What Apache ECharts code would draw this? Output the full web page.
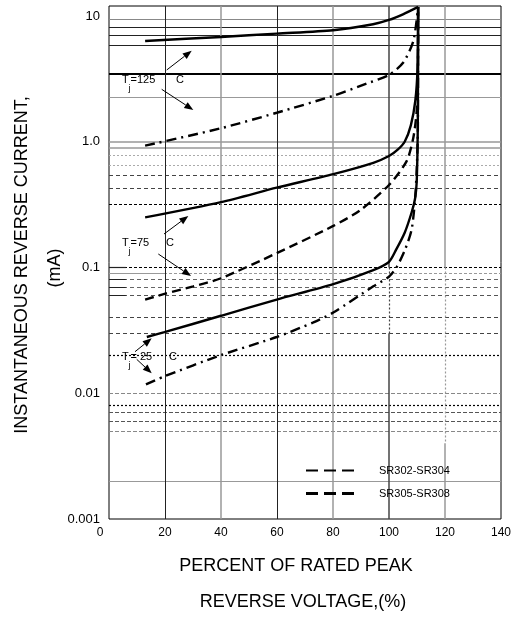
<!DOCTYPE html>
<html><head><meta charset="utf-8">
<script src="https://cdn.jsdelivr.net/npm/echarts@6/dist/echarts.min.js"></script>
<style>html,body{margin:0;padding:0;background:#fff}#c{width:515px;height:618px}</style>
</head><body><div id="c"></div>
<script>
// ---------- data ----------
const xTicks = [0, 20, 40, 60, 80, 100, 120, 140];
const yDecades = [0.001, 0.01, 0.1, 1, 10];
const yDecadeLabels = ['0.001', '0.01', '0.1', '1.0', '10'];

// Tj = 125 C
const t125Solid = [[12.9,6.33],[40,6.81],[59.9,7.24],[80,7.70],[94.3,8.59],[100,9.29],[105,10.3],[110.4,11.8]];
const t125DashDot = [[12.9,0.93],[40,1.28],[59.9,1.70],[80.1,2.32],[92,2.9],[100,3.4],[105.1,4.26],[108.7,6.33],[110.4,11.8]];
// Tj = 75 C
const t75Solid = [[12.9,0.25],[40,0.331],[59.9,0.431],[80.1,0.552],[94.4,0.679],[100,0.769],[103,0.86],[105.6,1.0],[107.8,1.35],[109.4,2.12],[110.2,3.89],[110.4,11.8]];
const t75Dashed = [[12.9,0.0556],[19.8,0.0616],[30.1,0.0707],[40,0.0821],[59.9,0.130],[80.1,0.214],[89.6,0.284],[100,0.453],[106.3,0.701],[108.7,1.08],[109.9,1.76],[110.3,3.5],[110.4,11.8]];
// Tj = 25 C
const t25Solid = [[13.5,0.028],[19.8,0.0306],[40,0.0413],[59.9,0.0556],[80.1,0.0737],[94.4,0.0953],[100,0.111],[102.5,0.138],[105.6,0.189],[108.1,0.275],[109.3,0.352],[109.9,0.482],[110.3,1.5],[110.4,11.8]];
const t25DashDot = [[13.2,0.01175],[19.8,0.01364],[40,0.0201],[59.9,0.028],[73,0.0366],[80.1,0.0438],[94.4,0.0708],[100,0.0846],[102.8,0.1013],[105.7,0.138],[108.1,0.201],[109.5,0.4],[110.3,1.2],[110.4,11.8]];

const legendNames = ['SR302-SR304', 'SR305-SR308'];
const annoTemps = ['=125', '=75', '= 25'];

const hGridValues = [9.4, 8.17, 7.03, 5.85, 3.49, 2.25, 1, 0.9, 0.78, 0.654, 0.539, 0.425, 0.319,
  0.1, 0.09, 0.08, 0.07, 0.06, 0.04, 0.03, 0.02, 0.01, 0.008, 0.007, 0.006, 0.005, 0.002];
const vGridValues = [20, 40, 60, 80];

// ---------- styles ----------
const hGridStyles = [
  ['#888','solid',1],['#222','solid',1],['#222','solid',1],['#222','solid',1],['#000','solid',2],['#999','solid',1.2],
  ['#999','solid',1.5],['#999','solid',1.5],['#aaa',[2,2],1],['#aaa',[2,2],1],['#444',[4,3],1],['#444',[4,3],1],['#000',[3,2],1.2],
  ['#000',[3,2],1.2],['#999',[3,2],1],['#666',[4,3],1],['#666',[4,3],1],['#555',[4,3],1],['#444',[4,3],1],['#444',[4,3],1],['#000',[2,2],1.2],
  ['#888',[4,2],1],['#000',[2,2],1.2],['#555',[4,2],1],['#555',[4,2],1],['#888',[4,2],1],['#999','solid',1.2]
];
const vGridStyles = [['#222','solid',1],['#999','solid',1.5],['#222','solid',1],['#999','solid',1.5]];

const FONT = 'Liberation Sans, Arial, Helvetica, sans-serif';
const ls = (c, t, w) => ({ color: c, type: t, width: w });

const markData = [];
hGridValues.forEach((v, i) => {
  const s = hGridStyles[i];
  markData.push({ yAxis: v, lineStyle: ls(s[0], s[1], s[2]) });
});
vGridValues.forEach((v, i) => {
  const s = vGridStyles[i];
  markData.push({ xAxis: v, lineStyle: ls(s[0], s[1], s[2]) });
});
const seg = (x1, y1, x2, y2, st) => [{ coord: [x1, y1], lineStyle: st }, { coord: [x2, y2] }];
markData.push(seg(100, 12, 100, 0.1, ls('#444','solid',1.5)));
markData.push(seg(100, 0.1, 100, 0.03, ls('#444',[2,2],1.2)));
markData.push(seg(100, 0.03, 100, 0.001, ls('#444','solid',1.5)));
markData.push(seg(120, 12, 120, 0.1, ls('#999','solid',1.5)));
markData.push(seg(120, 0.1, 120, 0.004, ls('#999',[2,2],1.2)));
markData.push(seg(120, 0.004, 120, 0.001, ls('#999','solid',1.5)));
markData.push(seg(0, 0.1, 6, 0.1, ls('#222','solid',1.2)));
markData.push(seg(0, 0.09, 20, 0.09, ls('#999','solid',1.2)));
markData.push(seg(0, 0.08, 6, 0.08, ls('#222','solid',1)));
markData.push(seg(0, 0.07, 6, 0.07, ls('#222','solid',1)));
markData.push(seg(0, 0.06, 6, 0.06, ls('#222','solid',1)));

function curve(data, type) {
  return {
    type: 'line', data, symbol: 'none', smooth: 0.25, z: 5, silent: true,
    lineStyle: { color: '#000', width: 2.4, type }
  };
}

function arrow(x1, y1, x2, y2) {
  const a = Math.atan2(y2 - y1, x2 - x1), L = 9, W = 3.5;
  const bx = x2 - L * Math.cos(a), by = y2 - L * Math.sin(a);
  const px = -Math.sin(a) * W, py = Math.cos(a) * W;
  return [
    { type: 'line', z: 6, shape: { x1, y1, x2: bx, y2: by }, style: { stroke: '#000', lineWidth: 1 } },
    { type: 'polygon', z: 6, shape: { points: [[x2, y2], [bx + px, by + py], [bx - px, by - py]] }, style: { fill: '#000' } }
  ];
}
const rect = (x, y, w, h) => ({ type: 'rect', z: 2, shape: { x, y, width: w, height: h }, style: { fill: '#fff' } });
const txt = (x, y, t, size, align, extra) => Object.assign({
  type: 'text', z: 6, x, y,
  style: { text: t, fill: '#000', font: size + 'px ' + FONT, align: align || 'left', verticalAlign: 'middle' }
}, extra || {});

function tempLabel(xT, yT, temp, xC) {
  return [
    txt(xT, yT, 'T', 11),
    txt(xT + 6.5, yT + 9, 'j', 9),
    txt(xT + 8.5, yT, temp, 11),
    txt(xC, yT, 'C', 11, 'center')
  ];
}

const graphics = [
  rect(120, 48, 89, 47), rect(110, 95, 54, 5),
  rect(126, 219, 69, 48),
  rect(113, 341, 65, 17),
  rect(295, 455, 190, 52),
  ...tempLabel(122, 80, annoTemps[0], 180),
  ...arrow(166.7, 70, 191.7, 50.7), ...arrow(161.7, 89.3, 193.3, 110),
  ...tempLabel(122, 243, annoTemps[1], 170),
  ...arrow(164, 234, 188.3, 216), ...arrow(158.3, 254, 191, 276),
  ...tempLabel(122, 357, annoTemps[2], 173),
  ...arrow(135, 351.7, 151.7, 338.3), ...arrow(136.7, 359.3, 151.7, 373.3),
  { type: 'line', z: 6, shape: { x1: 306, y1: 470.5, x2: 358, y2: 470.5 }, style: { stroke: '#000', lineWidth: 2, lineDash: [12, 6] } },
  { type: 'line', z: 6, shape: { x1: 306, y1: 493.5, x2: 358, y2: 493.5 }, style: { stroke: '#000', lineWidth: 3, lineDash: [12, 6] } },
  txt(379, 470.5, legendNames[0], 11),
  txt(379, 493.5, legendNames[1], 11),
  txt(296, 566, 'PERCENT OF RATED PEAK', 18, 'center'),
  txt(303, 602, 'REVERSE VOLTAGE,(%)', 18, 'center'),
  txt(22, 265, 'INSTANTANEOUS REVERSE CURRENT,', 18, 'center', { rotation: Math.PI / 2 }),
  txt(55, 268, '(mA)', 18, 'center', { rotation: Math.PI / 2 })
];

const chart = echarts.init(document.getElementById('c'), null, { renderer: 'canvas' });
chart.setOption({
  animation: false,
  backgroundColor: '#fff',
  grid: { left: 109, right: 14, top: 6, bottom: 99, show: true, borderColor: '#000', borderWidth: 1, backgroundColor: 'transparent' },
  xAxis: {
    type: 'value', min: xTicks[0], max: xTicks[xTicks.length - 1], interval: 20,
    axisLine: { show: false }, axisTick: { show: false }, splitLine: { show: false },
    axisLabel: {
      color: '#000', fontSize: 12, fontFamily: FONT, margin: 8,
      formatter: v => (v === 0 ? '{z|0}' : String(v)),
      rich: { z: { padding: [0, 18, 0, 0], fontSize: 12, fontFamily: FONT, color: '#000' } }
    }
  },
  yAxis: {
    type: 'log', logBase: 10, min: 0.001, max: 12,
    axisLine: { show: false }, axisTick: { show: false }, splitLine: { show: false }, minorSplitLine: { show: false },
    axisLabel: {
      color: '#000', fontSize: 13, fontFamily: FONT, margin: 9,
      formatter: v => {
        for (let i = 0; i < yDecades.length; i++) {
          if (Math.abs(Math.log10(v) - Math.log10(yDecades[i])) < 1e-6) return yDecadeLabels[i];
        }
        return '';
      }
    }
  },
  series: [
    { type: 'line', data: [], z: 1, silent: true,
      markLine: { silent: true, precision: 8, symbol: ['none', 'none'], label: { show: false }, emphasis: { disabled: true }, animation: false, data: markData } },
    curve(t125Solid, 'solid'),
    curve(t125DashDot, [10, 5, 2, 5]),
    curve(t75Solid, 'solid'),
    curve(t75Dashed, [9, 5]),
    curve(t25Solid, 'solid'),
    curve(t25DashDot, [10, 5, 2, 5])
  ],
  graphic: graphics
});
</script>
</body></html>
